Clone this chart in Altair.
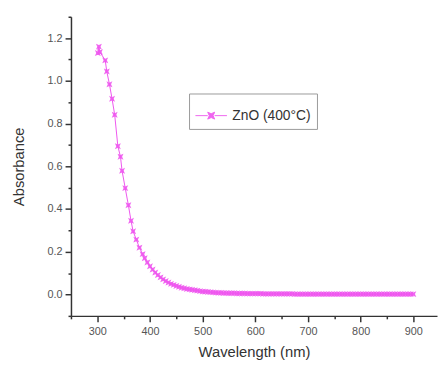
import altair as alt
import pandas as pd

# --- data ---
head_wl = [301, 303, 305, 315, 318, 323, 328, 333, 339, 344, 347, 353, 359, 364, 368, 374, 380, 386]
head_abs = [1.13, 1.16, 1.135, 1.096, 1.044, 0.984, 0.916, 0.841, 0.694, 0.645, 0.579, 0.498,
            0.418, 0.345, 0.296, 0.257, 0.219, 0.189]

tail_wl = list(range(390, 905, 5))
tail_abs = [
    0.170, 0.150, 0.132, 0.117, 0.103, 0.091, 0.080, 0.071, 0.063, 0.056,   # 390-435
    0.050, 0.045, 0.040, 0.036, 0.032, 0.029, 0.026, 0.024, 0.022, 0.020,   # 440-485
    0.018, 0.016, 0.014, 0.013, 0.012, 0.011, 0.010, 0.009, 0.008, 0.008,   # 490-535
    0.007, 0.007, 0.006,                                                    # 540-550
    0.006, 0.006, 0.005, 0.005, 0.005, 0.005, 0.004, 0.004, 0.004, 0.004,   # 555-600
    0.004, 0.004, 0.003, 0.003, 0.003, 0.003, 0.003, 0.003, 0.003, 0.003,   # 605-650
    0.003, 0.003, 0.003, 0.003, 0.002, 0.002, 0.002, 0.002, 0.002, 0.002,   # 655-700
    0.002, 0.002, 0.002, 0.002, 0.002, 0.002, 0.002, 0.002, 0.002, 0.002,   # 705-750
    0.002, 0.002, 0.002, 0.002, 0.002, 0.002, 0.002, 0.002, 0.002, 0.002,   # 755-800
    0.002, 0.002, 0.002, 0.002, 0.002, 0.002, 0.002, 0.002, 0.002, 0.002,   # 805-850
    0.002, 0.002, 0.002, 0.002, 0.002, 0.002, 0.002, 0.002, 0.002, 0.002,   # 855-900
]

series_name = "ZnO (400°C)"
x_major = [300, 400, 500, 600, 700, 800, 900]
x_minor = [250, 350, 450, 550, 650, 750, 850]
y_major = [0.0, 0.2, 0.4, 0.6, 0.8, 1.0, 1.2]
y_minor = [-0.1, 0.1, 0.3, 0.5, 0.7, 0.9, 1.1, 1.3]

n = min(len(tail_wl), len(tail_abs))
df = pd.DataFrame({
    "wl": head_wl + tail_wl[:n],
    "abs": head_abs + tail_abs[:n],
})
df["series"] = series_name

COLOR = "#EE55EE"
STAR = "M-1,-1L0,-0.55L1,-1L0.55,0L1,1L0,0.55L-1,1L-0.55,0Z"
LEG_SYM = ("M-1,0L-0.22,0M0.22,0L1,0"
           "M-0.22,-0.22L0,-0.12L0.22,-0.22L0.12,0L0.22,0.22L0,0.12L-0.22,0.22L-0.12,0Z")

x_scale = alt.Scale(domain=[250, 945], nice=False, zero=False)
y_scale = alt.Scale(domain=[-0.1, 1.3], nice=False, zero=False)

base = alt.Chart(df)
line = base.mark_line(color=COLOR, strokeWidth=1).encode(
    x=alt.X("wl:Q", scale=x_scale, axis=alt.Axis(
        title="Wavelength (nm)", values=x_major, orient="bottom",
        tickSize=6, labelPadding=4, labelFlush=False, titlePadding=8)),
    y=alt.Y("abs:Q", scale=y_scale, axis=alt.Axis(
        title="Absorbance", values=y_major, format=".1f", orient="left",
        tickSize=6, labelPadding=3, labelFlush=False, titlePadding=21)),
)
pts = base.mark_point(shape=STAR, filled=True, size=36, opacity=0.9).encode(
    x=alt.X("wl:Q", scale=x_scale, axis=alt.Axis(
        title=None, values=x_minor, orient="bottom", labels=False,
        tickSize=3, domain=False)),
    y=alt.Y("abs:Q", scale=y_scale, axis=alt.Axis(
        title=None, values=y_minor, orient="left", labels=False,
        tickSize=3, domain=False)),
    color=alt.Color(
        "series:N",
        scale=alt.Scale(domain=[series_name], range=[COLOR]),
        legend=alt.Legend(
            title=None,
            orient="none",
            legendX=120,
            legendY=78,
            symbolType=LEG_SYM,
            symbolSize=1024,
            symbolStrokeWidth=1,
            symbolStrokeColor=COLOR,
            symbolFillColor=COLOR,
            labelFont="Liberation Sans",
            labelFontSize=14,
            labelColor="#333",
            labelOffset=5,
            strokeColor="#999",
            padding=6,
        ),
    ),
)

chart = (
    alt.layer(line, pts)
    .resolve_axis(x="independent", y="independent")
    .properties(
        width=372,
        height=304,
        autosize=alt.AutoSizeParams(type="none"),
        padding={"left": 64, "top": 6, "right": 1, "bottom": 45},
        background="white",
    )
    .configure_view(stroke=None)
    .configure_axis(
        grid=False,
        domainColor="#333",
        domainWidth=1.5,
        tickColor="#333",
        tickWidth=1.5,
        labelColor="#555",
        labelFont="Liberation Sans",
        labelFontSize=11,
        titleFont="Liberation Sans",
        titleFontSize=15,
        titleFontWeight="normal",
        titleColor="#333",
    )
)

chart.save("out.html", embed_options={"renderer": "svg", "actions": False})
